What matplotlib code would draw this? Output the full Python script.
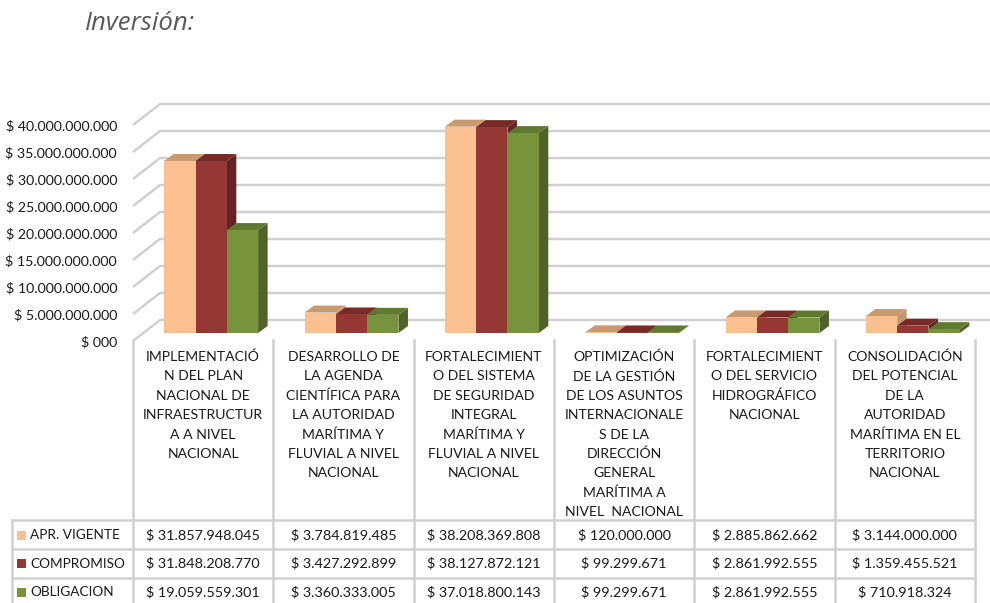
import matplotlib.pyplot as plt
from matplotlib.patches import Polygon, Rectangle
from matplotlib.lines import Line2D
from matplotlib.transforms import blended_transform_factory

plt.rcParams['font.family'] = ['Lato', 'DejaVu Sans']

# data
categories = [
    "IMPLEMENTACIÓ\nN DEL PLAN\nNACIONAL DE\nINFRAESTRUCTUR\nA A NIVEL\nNACIONAL",
    "DESARROLLO DE\nLA AGENDA\nCIENTÍFICA PARA\nLA AUTORIDAD\nMARÍTIMA Y\nFLUVIAL A NIVEL\nNACIONAL",
    "FORTALECIMIENT\nO DEL SISTEMA\nDE SEGURIDAD\nINTEGRAL\nMARÍTIMA Y\nFLUVIAL A NIVEL\nNACIONAL",
    "OPTIMIZACIÓN\nDE LA GESTIÓN\nDE LOS ASUNTOS\nINTERNACIONALE\nS DE LA\nDIRECCIÓN\nGENERAL\nMARÍTIMA A\nNIVEL  NACIONAL",
    "FORTALECIMIENT\nO DEL SERVICIO\nHIDROGRÁFICO\nNACIONAL",
    "CONSOLIDACIÓN\nDEL POTENCIAL\nDE LA\nAUTORIDAD\nMARÍTIMA EN EL\nTERRITORIO\nNACIONAL",
]
series_names = ['APR. VIGENTE', 'COMPROMISO', 'OBLIGACION']
apr_vigente = [31857948045, 3784819485, 38208369808, 120000000, 2885862662, 3144000000]
compromiso = [31848208770, 3427292899, 38127872121, 99299671, 2861992555, 1359455521]
obligacion = [19059559301, 3360333005, 37018800143, 99299671, 2861992555, 710918324]
yticks = [0, 5e9, 10e9, 15e9, 20e9, 25e9, 30e9, 35e9, 40e9]

front_colors = ['#FAC090', '#953735', '#77933C']
top_colors = ['#C99A70', '#772A28', '#5F7A2E']
side_colors = ['#C49670', '#632523', '#4F6228']
grid_color = '#D0D0D0'
text_color = '#1a1a1a'


def money(v):
    if v == 0:
        return '$ 000'
    return '$ ' + f'{int(v):,}'.replace(',', '.')


W, H = 990, 603
fig = plt.figure(figsize=(W / 100, H / 100), dpi=100)

# plot area: front plane from x=133..975 px, value 0 at y=341 px
px_per_b = 5.4
col_w = 842 / 6
ax = fig.add_axes([133 / W, (H - 341) / H, 842 / W, 241 / H])
ax.set_xlim(-0.5, 5.5)
ax.set_ylim(0, 241 / px_per_b * 1e9)
for s in ax.spines.values():
    s.set_visible(False)
ax.set_xticks([])
ax.set_yticks(yticks)
ax.set_yticklabels([money(v) for v in yticks], fontsize=10.2, color=text_color)
ax.tick_params(axis='y', length=0, pad=11.5)

ux = 1 / col_w
uy = 1e9 / px_per_b

# back wall + side diagonals
wdx, wdy = 27 * ux, 21 * uy
for v in yticks:
    ax.plot([-0.5, -0.5 + wdx, 5.5 + wdx], [v, v + wdy, v + wdy],
            color=grid_color, lw=1.8, clip_on=False, zorder=1,
            solid_capstyle='butt')

# 3D bars
bw = 31.3 * ux
sdx, sdy = 8 * ux, 8 * uy
bdx, bdy = 9.5 * ux, 7 * uy
series = [apr_vigente, compromiso, obligacion]
for j, vals in enumerate(series):
    z = 3 + j
    for i, v in enumerate(vals):
        xl = i + (j - 1.5) * bw + sdx
        xr = xl + bw
        top = sdy + v
        ax.add_patch(Polygon([(xr, sdy), (xr + bdx, sdy + bdy), (xr + bdx, top + bdy), (xr, top)],
                             closed=True, fc=side_colors[j], ec='none', zorder=z, clip_on=False))
        ax.add_patch(Polygon([(xl, top), (xr, top), (xr + bdx, top + bdy), (xl + bdx, top + bdy)],
                             closed=True, fc=top_colors[j], ec='none', zorder=z, clip_on=False))
    ax.bar([i + (j - 1) * bw + sdx for i in range(6)], vals, width=bw, bottom=sdy,
           color=front_colors[j], edgecolor='none', zorder=z + 0.5, clip_on=False)

# data table
tr = blended_transform_factory(ax.transData, fig.transFigure)


def fy(p):
    return 1 - p / H


x_left = -0.5 - (133 - 12) * ux
row_lines = [520, 549, 578, 607]
for y in row_lines:
    fig.add_artist(Line2D([x_left, 5.5], [fy(y), fy(y)], transform=tr,
                          color=grid_color, lw=1.8))
fig.add_artist(Line2D([x_left, x_left], [fy(520), fy(607)], transform=tr,
                      color=grid_color, lw=1.8))
for k in range(7):
    fig.add_artist(Line2D([k - 0.5, k - 0.5], [fy(340), fy(607)], transform=tr,
                          color=grid_color, lw=1.8))

line_h = 19.4
for i, lab in enumerate(categories):
    for k, line in enumerate(lab.split('\n')):
        fig.text(i, fy(357 + k * line_h), line, transform=tr, ha='center', va='center',
                 fontsize=10.1, color=text_color)

row_y = [535, 563.5, 592]
for j, vals in enumerate(series):
    for i, v in enumerate(vals):
        fig.text(i, fy(row_y[j]), money(v), transform=tr, ha='center', va='center',
                 fontsize=10.4, color=text_color)
    fig.add_artist(Rectangle((17 / W, fy(row_y[j] + 4.5)), 9 / W, 9 / H,
                             transform=fig.transFigure, fc=front_colors[j], ec='none'))
    fig.text(30 / W, fy(row_y[j]), series_names[j], ha='left', va='center',
             fontsize=9.8, color=text_color)

fig.text(85 / W, fy(23), 'Inversión:', ha='left', va='center', fontsize=18.5,
         style='italic', color='#595959', family=['Open Sans', 'DejaVu Sans'])

fig.savefig('out.png', dpi=100, facecolor='white')
